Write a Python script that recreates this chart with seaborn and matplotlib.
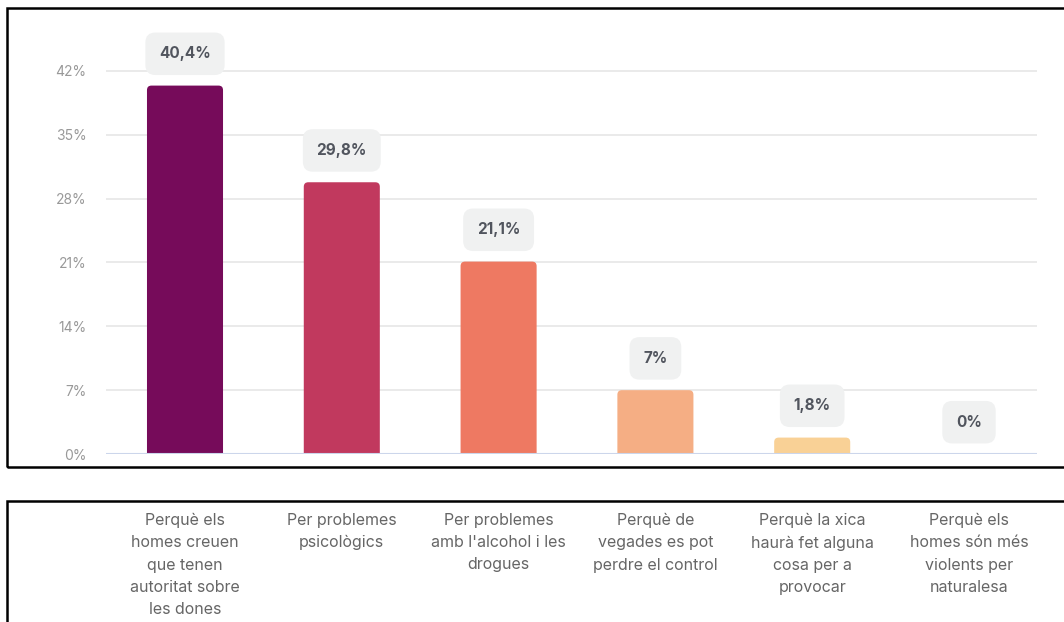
import matplotlib
matplotlib.use("Agg")
import matplotlib.pyplot as plt
import matplotlib.transforms as mtransforms
from matplotlib.patches import Rectangle, FancyBboxPatch
import seaborn as sns
import pandas as pd

categories = [
    "Perquè els\nhomes creuen\nque tenen\nautoritat sobre\nles dones",
    "Per problemes\npsicològics",
    "Per problemes\namb l'alcohol i les\ndrogues",
    "Perquè de\nvegades es pot\nperdre el control",
    "Perquè la xica\nhaurà fet alguna\ncosa per a\nprovocar",
    "Perquè els\nhomes són més\nviolents per\nnaturalesa",
]
values = [40.4, 29.8, 21.1, 7.0, 1.8, 0.0]
value_labels = ["40,4%", "29,8%", "21,1%", "7%", "1,8%", "0%"]
yticks = [0, 7, 14, 21, 28, 35, 42]
ytick_labels = ["0%", "7%", "14%", "21%", "28%", "35%", "42%"]
colors = ["#760b5a", "#c1395e", "#ee7962", "#f5ae84", "#f9d196", "#fbe6b0"]

sns.set_theme(style="white")
plt.rcParams["font.family"] = ["Inter", "DejaVu Sans"]

W, H = 1064, 622
fig = plt.figure(figsize=(W / 100, H / 100), dpi=100)
fig.patch.set_facecolor("white")

ax_left, ax_right = 106, 1037
ax_bottom_px, ax_top_px = 454, 20
ax = fig.add_axes([ax_left / W, (H - ax_bottom_px) / H,
                   (ax_right - ax_left) / W, (ax_bottom_px - ax_top_px) / H])

df = pd.DataFrame({"cat": range(len(values)), "val": values})
sns.barplot(data=df, x="cat", y="val", hue="cat", palette=colors,
            width=0.485, legend=False, ax=ax, saturation=1)

ymax = 42 * (ax_bottom_px - ax_top_px) / (ax_bottom_px - 71)
ax.set_ylim(0, ymax)
spacing_px = 156.8
x0 = -(185 - ax_left) / spacing_px
ax.set_xlim(x0, x0 + (ax_right - ax_left) / spacing_px)

# rounded bar tops: replace seaborn rectangles with rounded patches of the same extent
px_x = spacing_px
px_y = (ax_bottom_px - 71) / 42
r_px = 4.5
for p in list(ax.patches):
    x, w, h = p.get_x(), p.get_width(), p.get_height()
    fc = p.get_facecolor()
    p.set_visible(False)
    if h <= 0:
        continue
    ext = r_px / px_y
    fb = FancyBboxPatch((x, -ext), w, h + ext,
                        boxstyle=f"round,pad=0,rounding_size={r_px / px_x}",
                        mutation_aspect=px_x / px_y, fc=fc, ec="none", zorder=2)
    ax.add_patch(fb)

ax.set_yticks(yticks)
ax.set_yticklabels(ytick_labels, color="#999999", fontsize=10)
ax.tick_params(axis="y", length=0, pad=14)
ax.set_xticks([])
ax.set_xlabel("")
ax.set_ylabel("")
for s in ax.spines.values():
    s.set_visible(False)
for t in yticks[1:]:
    ax.axhline(t, color="#e6e6e6", lw=1.2, zorder=0)
ax.axhline(0, color="#ccd6eb", lw=1.5, zorder=3)

for i, (v, lab) in enumerate(zip(values, value_labels)):
    ax.annotate(lab, xy=(i, v), xytext=(0, 17.5), textcoords="offset points",
                ha="center", va="bottom", fontsize=11, fontweight="bold",
                color="#51555e",
                bbox=dict(boxstyle="round,pad=0.9,rounding_size=0.65",
                          fc="#f0f1f1", ec="none"))

# category labels in the lower panel
trans = mtransforms.blended_transform_factory(ax.transData, fig.transFigure)
for i, c in enumerate(categories):
    fig.text(i, (H - 513) / H, c, transform=trans, ha="center", va="top",
             fontsize=11.5, color="#666666", linespacing=1.6)

# frames
lw = 1.8
fig.patches.append(Rectangle((7 / W, (H - 467) / H), (W + 20) / W, (467 - 8) / H,
                             transform=fig.transFigure, fill=False,
                             ec="black", lw=lw))
fig.patches.append(Rectangle((7 / W, -0.1), (W + 20) / W, (H - 501) / H + 0.1,
                             transform=fig.transFigure, fill=False,
                             ec="black", lw=lw))

fig.savefig("out.png", dpi=100)
